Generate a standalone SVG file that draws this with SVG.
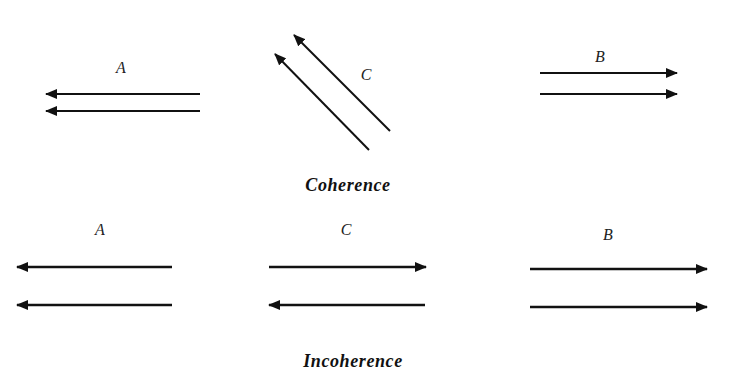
<svg xmlns="http://www.w3.org/2000/svg" width="747" height="378" viewBox="0 0 747 378">
<style>
.lbl{font-family:"Liberation Serif","Times New Roman",serif;font-style:italic;font-size:16px;fill:#222;text-anchor:middle}
.cap{font-family:"Liberation Serif","Times New Roman",serif;font-style:italic;font-weight:bold;font-size:18px;letter-spacing:0.6px;fill:#111;text-anchor:middle}
.ln{stroke:#111;fill:none;marker-end:url(#ah)}
.t{stroke-width:2}
.b{stroke-width:2.6}
</style>
<defs>
<marker id="ah" markerUnits="userSpaceOnUse" viewBox="0 0 12 10" refX="11" refY="5" markerWidth="12" markerHeight="10" orient="auto">
<path d="M0,0 L12,5 L0,10 Z" fill="#111"/>
</marker>
</defs>
<rect width="747" height="378" fill="#fff"/>
<g id="labels">
<text class="lbl" x="121" y="73">A</text>
<text class="lbl" x="366" y="80">C</text>
<text class="lbl" x="600" y="62">B</text>
<text class="cap" x="348" y="191">Coherence</text>
<text class="lbl" x="100" y="235">A</text>
<text class="lbl" x="346" y="235">C</text>
<text class="lbl" x="608" y="240">B</text>
<text class="cap" x="353" y="367">Incoherence</text>
</g>
<g id="connectors">
<line class="ln t" x1="200" y1="94" x2="46" y2="94"/>
<line class="ln t" x1="200" y1="111" x2="46" y2="111"/>
<line class="ln t" x1="390" y1="131" x2="294" y2="35"/>
<line class="ln t" x1="369" y1="150" x2="275" y2="54"/>
<line class="ln t" x1="540" y1="73" x2="677" y2="73"/>
<line class="ln t" x1="540" y1="94" x2="677" y2="94"/>
<line class="ln b" x1="172" y1="267" x2="17" y2="267"/>
<line class="ln b" x1="172" y1="305" x2="17" y2="305"/>
<line class="ln b" x1="269" y1="267" x2="426" y2="267"/>
<line class="ln b" x1="425" y1="305" x2="269" y2="305"/>
<line class="ln b" x1="530" y1="269" x2="707" y2="269"/>
<line class="ln b" x1="530" y1="307" x2="707" y2="307"/>
</g>
</svg>
